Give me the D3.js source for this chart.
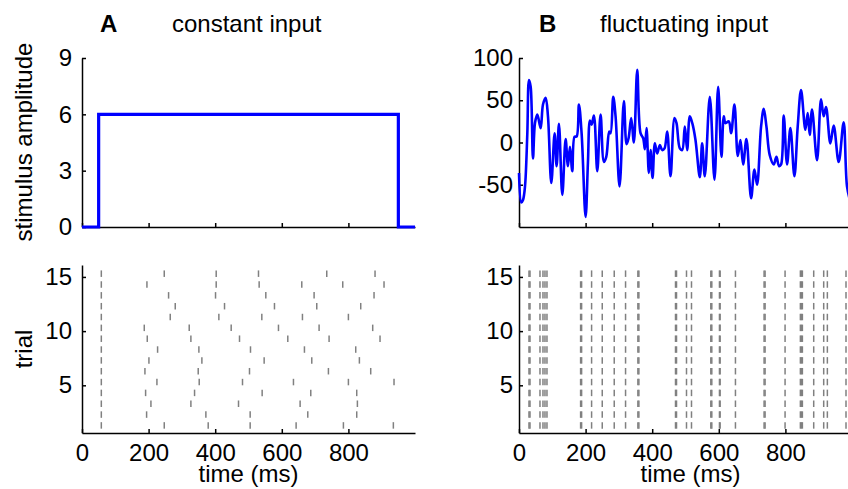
<!DOCTYPE html>
<html>
<head>
<meta charset="utf-8">
<script src="https://cdn.jsdelivr.net/npm/d3@7"></script>
<style>
  body { margin: 0; background: #fff; }
  svg { display: block; font-family: "Liberation Sans", Arial, Helvetica, sans-serif; }
  .axis path, .axis line { stroke: #000; stroke-width: 1.5; }
  .axis text { font-size: 24px; fill: #000; }
</style>
</head>
<body>
<svg id="chart" width="848" height="489"></svg>
<script>
// ---- data ----
var timeTicks = [0, 200, 400, 600, 800];
var ampTicks = [0, 3, 6, 9];
var fluctTicks = [-50, 0, 50, 100];
var trialTicks = [5, 10, 15];

// constant input: step from 0 to 6
var stimTimes = [0, 50, 950, 1000];
var stimAmps = [0, 6, 0, 0];

// fluctuating input trace (ms, amplitude)
var fluctTimes = [0, 7, 12, 18, 25, 30, 35, 42, 48, 55, 65, 72, 80, 87, 97, 107, 113, 120, 130, 140,
  147, 153, 160, 167, 173, 180, 188, 200, 207, 213, 218, 225, 235, 245, 255, 262, 271, 275, 283, 290,
  302, 315, 323, 329, 337, 345, 355, 365, 373, 378, 383, 390, 395, 401, 408, 415, 423, 430, 437, 445,
  455, 467, 473, 483, 490, 498, 505, 513, 521, 530, 543, 550, 558, 573, 587, 598, 608, 615, 620, 630,
  637, 647, 657, 665, 673, 683, 697, 707, 715, 727, 735, 743, 753, 765, 773, 781, 787, 795, 805, 815,
  827, 837, 847, 860, 867, 873, 880, 895, 907, 915, 922, 935, 945, 960, 975, 985, 995];
var fluctAmps = [-36, -71, -68, -52, 11, 74, 66, -19, 23, 33, 17, 45, 53, 31, -48, 11, -28, 22, -62, 4,
  -28, -5, -34, 7, 7, 45, 11, -88, -24, 26, 21, 32, -34, 33, -23, -17, 13, 11, 54, 31,
  -52, 49, -2, 5, 29, 0, 86, 11, 5, -8, 17, -36, -9, -42, -1, -13, -3, -9, -7, 13,
  -40, 29, 23, -7, -9, 19, -9, 31, 22, 3, -41, -1, -40, 54, -44, 66, -17, 31, 23, 25,
  11, 45, -16, 3, -26, 4, -66, -32, -50, 19, 40, 19, -15, -26, -17, -28, -26, 32, -26, 17,
  -40, 19, 62, 15, 35, 9, 39, -21, 51, 31, 42, -1, 20, -23, 24, -52, -70];

// spike times per trial (trial 1 .. 15), constant input
var constantSpikes = [
  [58, 247, 379, 505, 643, 785, 935],
  [58, 194, 372, 505, 678, 825],
  [58, 207, 327, 470, 655, 827],
  [58, 191, 338, 541, 687, 825],
  [58, 225, 352, 482, 635, 800, 937],
  [58, 189, 349, 503, 740, 867],
  [58, 201, 360, 547, 690, 833],
  [58, 227, 351, 506, 668, 822],
  [58, 196, 327, 473, 618, 742, 895],
  [58, 187, 322, 448, 590, 712, 873],
  [58, 265, 411, 540, 662, 800],
  [58, 280, 428, 578, 705, 837],
  [58, 260, 401, 552, 697, 877],
  [58, 195, 403, 532, 660, 783, 907],
  [58, 247, 403, 530, 735, 880]
];

// fluctuating input: spikes lock to the same times on every trial
var fluctSpikeTimes = [30, 33, 63, 72, 78, 84, 185, 188, 218, 250, 286, 320, 357, 360,
  470, 473, 503, 518, 576, 579, 602, 604, 650, 736, 739, 799, 845, 848, 851, 885, 915, 926, 982];
var nTrials = 15;

// ---- layout ----
var svg = d3.select("#chart");
var topY = [227, 58];
var rasterY = [433, 265];

var xA = d3.scaleLinear().domain([0, 1000]).range([82, 415]);
var xB = d3.scaleLinear().domain([0, 1000]).range([519, 852]);
var yAmp = d3.scaleLinear().domain([0, 9]).range(topY);
var yFluct = d3.scaleLinear().domain([-100, 100]).range(topY);
var yTrial = d3.scaleLinear().domain([0.6, 16.1]).range(rasterY);

var plainFmt = function (d) { return String(d); };

function drawAxes(x, y, yTickVals, yPad, withXLabels) {
  svg.append("g").attr("class", "axis")
    .attr("transform", "translate(0," + y.range()[0] + ")")
    .call(d3.axisBottom(x).tickValues(timeTicks).tickSize(-4).tickSizeOuter(0).tickPadding(11)
      .tickFormat(withXLabels ? plainFmt : ""));
  svg.append("g").attr("class", "axis")
    .attr("transform", "translate(" + x.range()[0] + ",0)")
    .call(d3.axisLeft(y).tickValues(yTickVals).tickSize(-4).tickSizeOuter(0).tickPadding(yPad)
      .tickFormat(plainFmt));
}

// ---- panel A top ----
drawAxes(xA, yAmp, ampTicks, 10, false);
svg.append("path")
  .datum(stimTimes.map(function (t, i) { return [t, stimAmps[i]]; }))
  .attr("fill", "none").attr("stroke", "#0000ff").attr("stroke-width", 3.2)
  .attr("d", d3.line().curve(d3.curveStepAfter)
    .x(function (d) { return xA(d[0]); }).y(function (d) { return yAmp(d[1]); }));

// ---- panel B top ----
drawAxes(xB, yFluct, fluctTicks, 6, false);
svg.append("path")
  .datum(fluctTimes.map(function (t, i) { return [t, fluctAmps[i]]; }))
  .attr("fill", "none").attr("stroke", "#0000ff").attr("stroke-width", 2.6)
  .attr("stroke-linejoin", "round")
  .attr("d", d3.line().curve(d3.curveCatmullRom)
    .x(function (d) { return xB(d[0]); }).y(function (d) { return yFluct(d[1]); }));

// ---- rasters ----
function drawRaster(x, spikesByTrial) {
  var flat = [];
  spikesByTrial.forEach(function (ts, i) {
    ts.forEach(function (t) { flat.push({trial: i + 1, t: t}); });
  });
  svg.append("g").selectAll("line").data(flat).enter().append("line")
    .attr("x1", function (d) { return x(d.t); })
    .attr("x2", function (d) { return x(d.t); })
    .attr("y1", function (d) { return yTrial(d.trial); })
    .attr("y2", function (d) { return yTrial(d.trial + 0.6); })
    .attr("stroke", "#808080").attr("stroke-width", 1.5);
}

drawAxes(xA, yTrial, trialTicks, 10, true);
drawRaster(xA, constantSpikes);

drawAxes(xB, yTrial, trialTicks, 6, true);
drawRaster(xB, d3.range(nTrials).map(function () { return fluctSpikeTimes; }));

// ---- labels ----
function label(txt, x, y, opts) {
  opts = opts || {};
  var t = svg.append("text").attr("x", x).attr("y", y)
    .attr("font-size", opts.size || 24)
    .attr("font-weight", opts.bold ? "bold" : "normal")
    .attr("text-anchor", opts.anchor || "start")
    .text(txt);
  if (opts.rotate) t.attr("transform", "rotate(-90," + x + "," + y + ")");
  return t;
}
label("A", 100, 32, {bold: true});
label("constant input", 172, 32);
label("B", 539, 32, {bold: true});
label("fluctuating input", 600, 32);
label("stimulus amplitude", 32, 142, {anchor: "middle", rotate: true});
label("trial", 32, 349, {anchor: "middle", rotate: true});
label("time (ms)", xA(500), 482, {anchor: "middle"});
label("time (ms)", xB(515), 482, {anchor: "middle"});
</script>
</body>
</html>
